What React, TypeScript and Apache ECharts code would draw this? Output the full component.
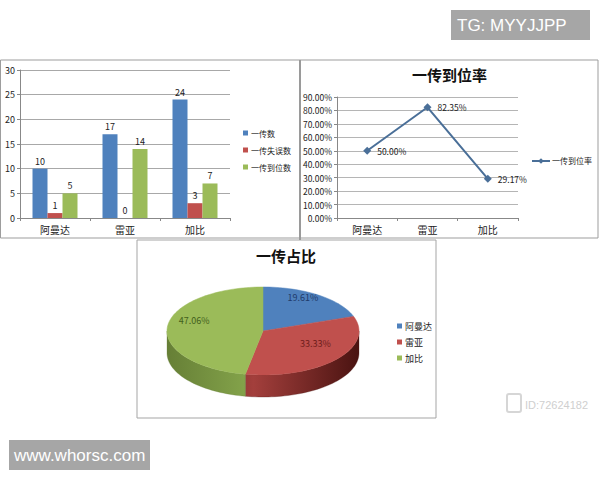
import { useEffect, useRef } from "react";
import * as echarts from "echarts";

const players = ["阿曼达", "雷亚", "加比"];
const barNames = ["一传数", "一传失误数", "一传到位数"];
const passTotals = [10, 17, 24];
const passErrors = [1, 0, 3];
const passGood = [5, 14, 7];
const rateName = "一传到位率";
const goodRate = [0.5, 0.8235, 0.2917];
const shareTitle = "一传占比";
const shareValues = [10, 17, 24];

const barAxisMax = 30;
const barAxisStep = 5;
const rateAxisMax = 0.9;
const rateAxisStep = 0.1;

const colors = ["#4F81BD", "#C0504D", "#9BBB59"];
const sideDark = ["#263f5e", "#4a1311", "#667f36"];
const sideMid = ["#3d6590", "#a33f3c", "#86a64c"];
const labelColors = ["#1f3b6b", "#6e1d1b", "#43601c"];

const CJK = "'Noto Sans CJK SC', sans-serif";
const PIE = { cx: 263, cy: 331, rx: 96, ry: 44, depth: 22 };

function arcPoints(a0: number, a1: number, dy: number) {
  const n = Math.max(2, Math.ceil((a1 - a0) / (Math.PI / 90)));
  const pts: number[][] = [];
  for (let k = 0; k <= n; k++) {
    const t = a0 + ((a1 - a0) * k) / n;
    pts.push([PIE.cx + PIE.rx * Math.sin(t), PIE.cy - PIE.ry * Math.cos(t) + dy]);
  }
  return pts;
}

function sliceRenderer(i: number) {
  return (_params: any, api: any) => {
    const total = shareValues.reduce((a, b) => a + b, 0);
    const before = shareValues.slice(0, i).reduce((a, b) => a + b, 0);
    const value = api.value(0);
    const a0 = (before / total) * Math.PI * 2;
    const a1 = ((before + value) / total) * Math.PI * 2;
    const children: any[] = [];
    // front wall only (angles 90..270 deg, measured clockwise from top)
    const s0 = Math.max(a0, Math.PI / 2);
    const s1 = Math.min(a1, (Math.PI * 3) / 2);
    if (s1 > s0) {
      const top = arcPoints(s0, s1, 0);
      const bottom = arcPoints(s0, s1, PIE.depth).reverse();
      children.push({
        type: "polygon",
        z2: 1,
        shape: { points: [...top, ...bottom] },
        style: {
          fill: {
            type: "linear",
            x: PIE.cx - PIE.rx,
            y: 0,
            x2: PIE.cx + PIE.rx,
            y2: 0,
            global: true,
            colorStops: [
              { offset: 0, color: sideDark[i] },
              { offset: 0.45, color: sideMid[i] },
              { offset: 1, color: sideDark[i] },
            ],
          },
          stroke: sideDark[i],
          lineWidth: 0.3,
        },
      });
    }
    children.push({
      type: "polygon",
      z2: 10,
      shape: { points: [[PIE.cx, PIE.cy], ...arcPoints(a0, a1, 0)] },
      style: { fill: colors[i], stroke: colors[i], lineWidth: 0.5 },
    });
    const mid = (a0 + a1) / 2;
    children.push({
      type: "text",
      z2: 20,
      x: PIE.cx + PIE.rx * 0.72 * Math.sin(mid),
      y: PIE.cy - PIE.ry * 0.72 * Math.cos(mid) - 8,
      style: {
        text: ((value / total) * 100).toFixed(2) + "%",
        align: "center",
        verticalAlign: "middle",
        fill: labelColors[i],
        font: `9px ${CJK}`,
      },
    });
    return { type: "group", children };
  };
}

const axisText = { color: "#222", fontSize: 9, fontFamily: CJK };
const legendText = { color: "#222", fontSize: 8, fontFamily: CJK };
const gridLine = { lineStyle: { color: "#a8a8a8", width: 1 } };
const axisLine = { show: true, lineStyle: { color: "#888" } };
const axisTick = { show: true, length: 3, lineStyle: { color: "#888" } };
const titleText = { fontSize: 15, fontWeight: "bold", color: "#111", fontFamily: CJK };

export default function App() {
  const ref = useRef<HTMLDivElement>(null);

  useEffect(() => {
    const el = ref.current;
    if (el === null) return;
    const chart = echarts.init(el, undefined, { renderer: "svg" });
    chart.setOption({
      animation: false,
      backgroundColor: "#fff",
      title: [
        { text: rateName, left: 412, top: 67, padding: 0, textStyle: titleText },
        { text: shareTitle, left: 256, top: 248, padding: 0, textStyle: titleText },
      ],
      legend: [
        {
          data: barNames,
          orient: "vertical",
          left: 243,
          top: 127,
          padding: 0,
          icon: "rect",
          itemWidth: 5,
          itemHeight: 5,
          itemGap: 5,
          textStyle: { ...legendText, lineHeight: 12, padding: [0, 0, 0, -2] },
        },
        {
          data: [rateName],
          orient: "vertical",
          left: 531,
          top: 157,
          padding: 0,
          itemWidth: 18,
          itemHeight: 7,
          textStyle: { ...legendText, padding: [0, 0, 0, -3] },
        },
        {
          data: players,
          orient: "vertical",
          left: 397,
          top: 320,
          padding: 0,
          icon: "rect",
          itemWidth: 5,
          itemHeight: 5,
          itemGap: 4,
          textStyle: { ...legendText, fontSize: 9, lineHeight: 12, padding: [0, 0, 0, -2] },
        },
      ],
      grid: [
        { left: 20, right: 370, top: 70, bottom: 262 },
        { left: 337, right: 82, top: 97, bottom: 262 },
      ],
      xAxis: [
        {
          type: "category",
          gridIndex: 0,
          data: players,
          axisLine,
          axisTick,
          axisLabel: { ...axisText, fontSize: 10, margin: 6 },
        },
        {
          type: "category",
          gridIndex: 1,
          data: players,
          axisLine,
          axisTick,
          axisLabel: { ...axisText, fontSize: 10, margin: 6 },
        },
      ],
      yAxis: [
        {
          type: "value",
          gridIndex: 0,
          min: 0,
          max: barAxisMax,
          interval: barAxisStep,
          axisLine,
          axisTick,
          axisLabel: { ...axisText, margin: 5 },
          splitLine: gridLine,
        },
        {
          type: "value",
          gridIndex: 1,
          min: 0,
          max: rateAxisMax,
          interval: rateAxisStep,
          axisLine,
          axisTick,
          axisLabel: {
            ...axisText,
            fontSize: 8.5,
            margin: 5,
            formatter: (v: number) => (v * 100).toFixed(2) + "%",
          },
          splitLine: { lineStyle: { color: "#b5b5b5", width: 1 } },
        },
      ],
      series: [
        ...[passTotals, passErrors, passGood].map((data, i) => ({
          type: "bar",
          name: barNames[i],
          xAxisIndex: 0,
          yAxisIndex: 0,
          data,
          barWidth: 15,
          barGap: "0%",
          itemStyle: { color: colors[i] },
          label: { show: true, position: "top", distance: 3, ...axisText },
        })),
        {
          type: "line",
          name: rateName,
          xAxisIndex: 1,
          yAxisIndex: 1,
          data: goodRate,
          symbol: "diamond",
          symbolSize: 8,
          itemStyle: { color: "#4A6F98" },
          lineStyle: { color: "#4A6F98", width: 2 },
          label: {
            show: true,
            position: "right",
            distance: 6,
            ...axisText,
            fontSize: 8.5,
            formatter: (p: any) => (p.value * 100).toFixed(2) + "%",
          },
        },
        ...players.map((name, i) => ({
          type: "custom",
          name,
          coordinateSystem: "none",
          itemStyle: { color: colors[i] },
          data: [shareValues[i]],
          renderItem: sliceRenderer(i),
        })),
      ],
      graphic: [
        { type: "rect", shape: { x: 0.5, y: 60, width: 299.5, height: 178 }, style: { fill: "none", stroke: "#9d9d9d", lineWidth: 1 } },
        { type: "rect", shape: { x: 300, y: 60, width: 298, height: 178 }, style: { fill: "none", stroke: "#9d9d9d", lineWidth: 1 } },
        { type: "line", shape: { x1: 300, y1: 60, x2: 300, y2: 240 }, style: { stroke: "#9a9a9a", lineWidth: 2 } },
        { type: "rect", shape: { x: 137, y: 240, width: 299, height: 178 }, style: { fill: "#fff", stroke: "#a5a5a5", lineWidth: 1 }, z: -1 },
        { type: "rect", shape: { x: 451, y: 10, width: 139, height: 30 }, style: { fill: "#a6a6a6" } },
        { type: "text", x: 457, y: 25, style: { text: "TG: MYYJJPP", fill: "#fff", font: "17px 'Liberation Sans', Arial, sans-serif", verticalAlign: "middle" } },
        { type: "rect", shape: { x: 9, y: 440, width: 141, height: 30 }, style: { fill: "#a6a6a6" } },
        { type: "text", x: 14, y: 455, style: { text: "www.whorsc.com", fill: "#fff", font: "17px 'Liberation Sans', Arial, sans-serif", verticalAlign: "middle" } },
        { type: "text", x: 525, y: 405, style: { text: "ID:72624182", fill: "#cfcfcf", font: "11px 'Liberation Sans', Arial, sans-serif", verticalAlign: "middle" } },
        { type: "rect", shape: { x: 507, y: 394, width: 14, height: 18, r: 2 }, style: { fill: "none", stroke: "#d6d6d6", lineWidth: 2 } },
      ],
    });
    return () => chart.dispose();
  }, []);

  return (
    <div
      ref={ref}
      style={{ position: "fixed", left: 0, top: 0, width: 600, height: 480 }}
    />
  );
}
